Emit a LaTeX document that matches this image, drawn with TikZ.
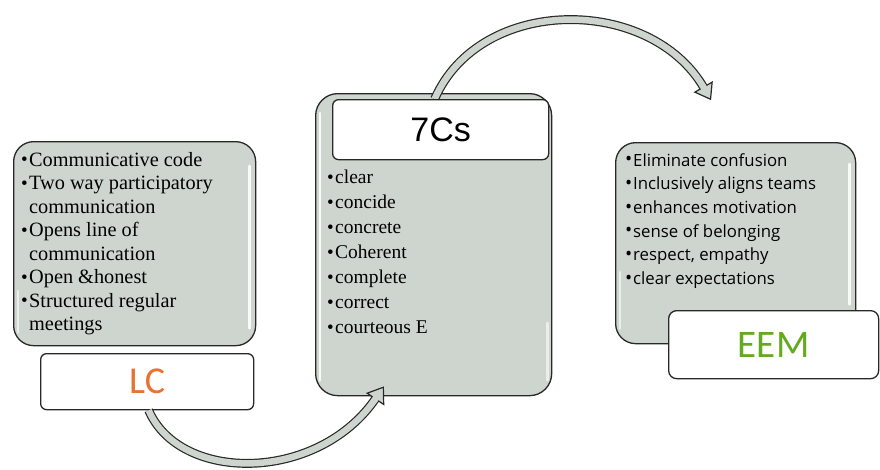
\documentclass[tikz,border=0pt]{standalone}
\usepackage{fontspec}
\setmainfont{Liberation Serif}
\newfontfamily\arialfont{Liberation Sans}
\newfontfamily\calfont{Carlito}
\newfontfamily\eemlistfont{Open Sans}
\usetikzlibrary{calc}
\definecolor{boxgray}{RGB}{206,213,206}
\definecolor{lcorange}{RGB}{233,113,50}
\definecolor{eemgreen}{RGB}{100,170,30}
\definecolor{edge}{RGB}{40,40,40}
\newcommand{\bul}{\makebox[8pt][l]{\fontsize{19}{19}\selectfont\raisebox{0.3pt}{•}}}
\newcommand{\cont}{\hspace*{8pt}}
\begin{document}
\begin{tikzpicture}[x=1pt,y=-1pt,
  graybox/.style={draw=edge, line width=1.3pt, fill=boxgray, rounded corners=20pt, inner sep=0pt, anchor=north west},
  titlebox/.style={draw=edge, line width=1.3pt, fill=white, rounded corners=6pt, inner sep=0pt, anchor=north west},
  sheen/.style={white, line width=2.6pt, line cap=round, opacity=0.9},
  serlist/.style={font=\fontsize{20.3}{23.5}\selectfont, align=left, inner sep=0pt, anchor=north west},
  sanslist/.style={font=\eemlistfont\fontsize{16.8}{23.7}\selectfont, align=left, inner sep=0pt, anchor=north west},
  blockarrow/.style={draw=edge, line width=1.2pt, double=boxgray, double distance=6.5pt},
  headtri/.style={fill=boxgray, draw=edge, line width=1.2pt, line join=miter}]
\useasboundingbox (0,0) rectangle (880,469);

% ---- LC ----
\node[graybox, minimum width=242pt, minimum height=204pt] (lcbox) at (13,141) {};
\draw[sheen] ([xshift=-7pt,yshift=-25pt]lcbox.north east) -- ([xshift=-7pt,yshift=18pt]lcbox.south east);
\draw[sheen, opacity=0.6] ([xshift=5pt,yshift=-150pt]lcbox.north west) -- ([xshift=5pt,yshift=14pt]lcbox.south west);
\node[serlist] (lclist) at (21,152) {%
\bul Communicative code\\
\bul Two way participatory\\
\cont communication\\
\bul Opens line of\\
\cont communication\\
\bul Open \&honest\\
\bul Structured regular\\
\cont meetings};
\node[titlebox, minimum width=213pt, minimum height=56pt, font=\calfont\fontsize{38}{38}\selectfont, text=lcorange] (lctitle) at (40,353) {LC};

% ---- 7Cs ----
\node[graybox, minimum width=236pt, minimum height=302pt, rounded corners=22pt] (csbox) at (315,93) {};
\draw[sheen] ([xshift=5pt,yshift=-20pt]csbox.north west) -- ([xshift=5pt,yshift=16pt]csbox.south west);
\draw[sheen, opacity=0.6] ([xshift=-5pt,yshift=-230pt]csbox.north east) -- ([xshift=-5pt,yshift=16pt]csbox.south east);

% arrow from 7Cs to EEM
\coordinate (topstart) at ([xshift=1pt]csbox.north |- 0,99);
\coordinate (topend) at (704,88);
\draw[blockarrow] (topstart) .. controls (480,-5) and (650,-5) .. (topend);
\filldraw[headtri] let \p1 = ($(topend)-(650,-5)$), \n1 = {atan2(\y1,\x1)} in
  [shift={(topend)}, rotate=\n1] (-1,-10) -- (13,0) -- (-1,10) -- cycle;
\fill[boxgray] let \p1 = ($(topend)-(650,-5)$), \n1 = {atan2(\y1,\x1)} in
  [shift={(topend)}, rotate=\n1] (-2.6,-3.2) rectangle (0.4,3.2);

\node[titlebox, minimum width=216pt, minimum height=60pt, font=\arialfont\fontsize{34}{34}\selectfont] (cstitle) at (332,99) {7Cs};
\node[serlist, font=\fontsize{19.5}{25}\selectfont] (cslist) at (327,170) {%
\bul clear\\
\bul concide\\
\bul concrete\\
\bul Coherent\\
\bul complete\\
\bul correct\\
\bul courteous E};

% ---- EEM ----
\node[graybox, minimum width=240pt, minimum height=201pt] (eembox) at (615,142) {};
\draw[sheen] ([xshift=-7pt,yshift=-22pt]eembox.north east) -- ([xshift=-7pt,yshift=40pt]eembox.south east);
\draw[sheen, opacity=0.6] ([xshift=5pt,yshift=-130pt]eembox.north west) -- ([xshift=5pt,yshift=16pt]eembox.south west);
\node[sanslist] (eemlist) at (625,153) {%
\bul Eliminate confusion\\
\bul Inclusively aligns teams\\
\bul enhances motivation\\
\bul sense of belonging\\
\bul respect, empathy\\
\bul clear expectations};
\node[titlebox, minimum width=210pt, minimum height=68pt, rounded corners=8pt, font=\calfont\fontsize{39}{39}\selectfont, text=eemgreen] (eemtitle) at (668,310) {EEM};

% arrow from LC to 7Cs
\coordinate (botstart) at ([xshift=1.5pt]lctitle.south);
\coordinate (botend) at (376,398);
\draw[blockarrow] (botstart) .. controls (180,483) and (318,483) .. (botend);
\filldraw[headtri] let \p1 = ($(botend)-(318,483)$), \n1 = {atan2(\y1,\x1)} in
  [shift={(botend)}, rotate=\n1] (-1,-10) -- (13,0) -- (-1,10) -- cycle;
\fill[boxgray] let \p1 = ($(botend)-(318,483)$), \n1 = {atan2(\y1,\x1)} in
  [shift={(botend)}, rotate=\n1] (-2.6,-3.2) rectangle (0.4,3.2);
\end{tikzpicture}
\end{document}
